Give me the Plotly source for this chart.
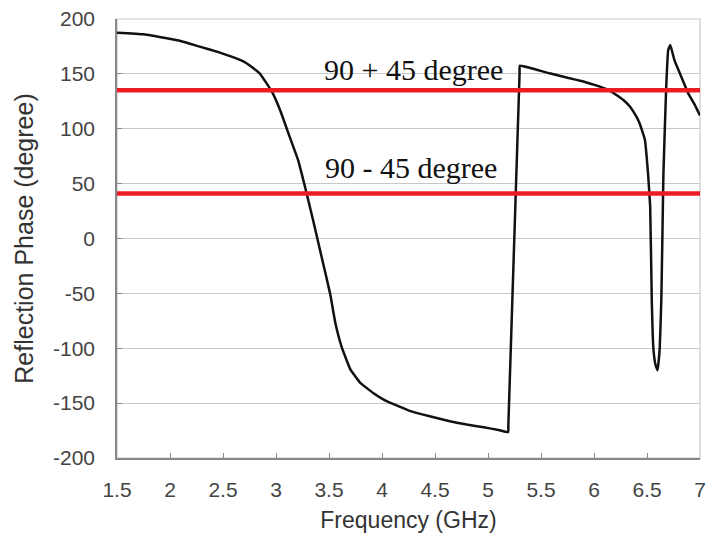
import plotly.graph_objects as go

# ---- data ----
frequency_ghz = [
    1.50, 1.75, 1.97, 2.10, 2.28, 2.45, 2.60, 2.70, 2.79, 2.85, 2.96, 3.04,
    3.13, 3.21, 3.27, 3.35, 3.43, 3.51, 3.56, 3.62, 3.70, 3.79, 3.92,
    4.02, 4.11, 4.26, 4.45, 4.64, 4.80, 4.96, 5.10, 5.19, 5.192, 5.298, 5.30, 5.45, 5.58,
    5.75, 5.90, 6.02, 6.12, 6.20, 6.28, 6.34, 6.40, 6.43, 6.48, 6.51, 6.53,
    6.545, 6.56, 6.58, 6.60, 6.62, 6.635, 6.645, 6.655, 6.68, 6.70, 6.72,
    6.76, 6.81, 6.89, 6.95, 7.00,
]
phase_deg = [
    187.5, 186.0, 182.4, 180.0, 174.8, 170.0, 165.0, 161.0, 155.0, 150.0, 134.0, 116.7,
    92.4, 71.0, 48.5, 16.7, -16.7, -50.0, -77.0, -99.0, -119.0, -131.0, -141.0,
    -147.0, -151.0, -157.0, -162.0, -166.5, -169.5, -172.0, -174.5, -176.5, -170.0, 151.0, 157.5, 154.0, 150.5,
    146.5, 143.0, 139.5, 136.0, 131.5, 126.0, 120.0, 111.0, 105.0, 90.0, 59.0, 29.0,
    -56.0, -100.0, -115.0, -120.0, -100.0, -56.0, 0.0, 59.0, 135.0, 171.8, 176.3,
    162.0, 150.5, 132.0, 122.0, 112.0,
]

reference_levels = [135, 41]
reference_labels = ["90 + 45 degree", "90 - 45 degree"]
label_x = [4.30, 4.27]
label_y = [154, 65]

x_ticks = [1.5, 2, 2.5, 3, 3.5, 4, 4.5, 5, 5.5, 6, 6.5, 7]
x_tick_text = ["1.5", "2", "2.5", "3", "3.5", "4", "4.5", "5", "5.5", "6", "6.5", "7"]
y_ticks = [-200, -150, -100, -50, 0, 50, 100, 150, 200]
y_tick_text = ["-200", "-150", "-100", "-50", "0", "50", "100", "150", "200"]

fig = go.Figure()

fig.add_trace(go.Scatter(
    x=frequency_ghz, y=phase_deg, mode="lines",
    line=dict(color="#111111", width=2.5, shape="spline", smoothing=0.3),
    showlegend=False, hoverinfo="skip",
))

for lvl in reference_levels:
    fig.add_hline(y=lvl, line=dict(color="#ec1c24", width=4.5), layer="above")

for txt, lx, ly in zip(reference_labels, label_x, label_y):
    fig.add_annotation(
        x=lx, y=ly, xref="x", yref="y", text=txt, showarrow=False,
        font=dict(family="Liberation Serif, Times New Roman, serif", size=30, color="#111111"),
        xanchor="center", yanchor="middle",
    )

# light frame on top/right
fig.add_shape(type="rect", xref="paper", yref="paper", x0=0, y0=0, x1=1, y1=1,
              line=dict(color="#c8c8c8", width=1.2), layer="below")

tick_font = dict(family="Liberation Sans, Arial, sans-serif", size=21, color="#444444")
x_title_font = dict(family="Liberation Sans, Arial, sans-serif", size=23, color="#333333")
y_title_font = dict(family="Liberation Sans, Arial, sans-serif", size=25, color="#333333")

fig.update_xaxes(
    range=[1.5, 7], tickvals=x_ticks, ticktext=x_tick_text,
    showgrid=False, zeroline=False,
    showline=True, linecolor="#888888", linewidth=1.5,
    ticks="inside", ticklen=5, tickcolor="#888888", tickwidth=1,
    tickfont=tick_font, ticklabelstandoff=12,
    title=dict(text="Frequency (GHz)", font=x_title_font, standoff=12),
)
fig.update_yaxes(
    range=[-200, 200], tickvals=y_ticks, ticktext=y_tick_text,
    showgrid=True, gridcolor="#c8c8c8", gridwidth=1.2, zeroline=False,
    showline=True, linecolor="#888888", linewidth=1.5,
    ticks="inside", ticklen=5, tickcolor="#888888", tickwidth=1,
    tickfont=tick_font, ticklabelstandoff=16,
    title=dict(text="Reflection Phase (degree)", font=y_title_font, standoff=12),
)

fig.update_layout(
    width=707, height=535,
    margin=dict(l=117, r=7, t=19, b=77, autoexpand=False),
    plot_bgcolor="white", paper_bgcolor="white",
)

# remove the default 8px page margin so the figure fills the window exactly
fig.write_html("out.html", config={"displayModeBar": False},
               post_script="document.body.style.margin='0px';")
